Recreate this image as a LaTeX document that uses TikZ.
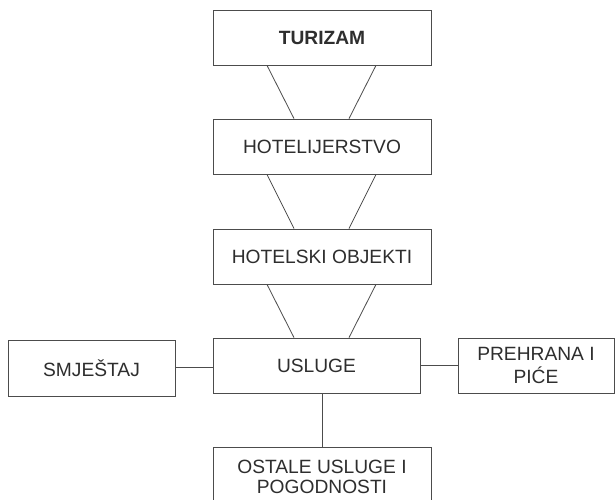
\documentclass[tikz,border=0pt]{standalone}
\usepackage{fontspec}
\setmainfont{Liberation Sans}
\usetikzlibrary{calc}
\begin{document}
\begin{tikzpicture}[x=0.75pt,y=-0.75pt,
  box/.style={draw=black!70,line width=0.6pt,inner sep=0pt,align=center,
    text=black!82,font=\fontsize{14.4}{17}\selectfont},
  link/.style={draw=black!70,line width=0.6pt}]
\useasboundingbox (0,0) rectangle (615,500);
\clip (0,0) rectangle (615,500);
\fill[white] (0,0) rectangle (615,500);
\node[box,minimum width=163.5pt,minimum height=41.25pt,font=\fontsize{14.4}{17}\selectfont\bfseries] (tur) at (322,37.5) {TURIZAM};
\node[box,minimum width=163.5pt,minimum height=41.25pt] (hot) at (322,146.5) {HOTELIJERSTVO};
\node[box,minimum width=163.5pt,minimum height=41.25pt] (obj) at (322,256.5) {HOTELSKI OBJEKTI};
\node[box,minimum width=155.25pt,minimum height=41.25pt] (usl) at (316.5,365.5) {USLUGE};
\node[box,minimum width=125.25pt,minimum height=42pt] (smj) at (91.5,368) {SMJEŠTAJ};
\node[box,minimum width=117pt,minimum height=41.25pt] (pre) at (536,365.5) {PREHRANA I\\PIĆE};
\node[box,minimum width=163.5pt,minimum height=44.25pt,font=\fontsize{14.4}{15}\selectfont] (ost) at (322,476.5) {OSTALE USLUGE I\\POGODNOSTI};
% trapezoid connectors
\draw[link] ($(tur.south)+(-55,0)$) -- ($(hot.north)+(-28,0)$);
\draw[link] ($(tur.south)+(54,0)$) -- ($(hot.north)+(27,0)$);
\draw[link] ($(hot.south)+(-55,0)$) -- ($(obj.north)+(-28,0)$);
\draw[link] ($(hot.south)+(54,0)$) -- ($(obj.north)+(27,0)$);
\coordinate (ul) at ($(obj.south)+(-28,0)$);
\coordinate (ur) at ($(obj.south)+(27,0)$);
\coordinate (se) at ($(smj.east)+(0,-1)$);
\draw[link] ($(obj.south)+(-55,0)$) -- (ul |- usl.north);
\draw[link] ($(obj.south)+(54,0)$) -- (ur |- usl.north);
% side and bottom connectors
\draw[link] (se) -- (se -| usl.west);
\draw[link] (usl.east) -- (usl.east -| pre.west);
\draw[link] (ost.north) -- (ost.north |- usl.south);
\end{tikzpicture}
\end{document}
